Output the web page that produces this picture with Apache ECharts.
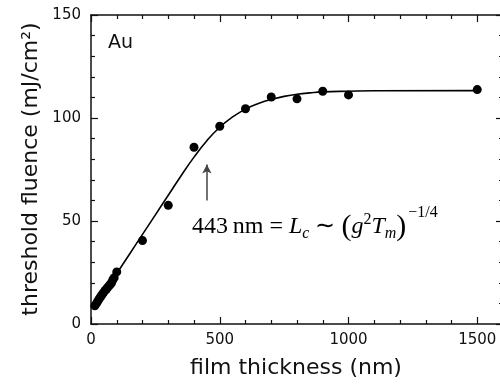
<!DOCTYPE html>
<html>
<head>
<meta charset="utf-8">
<script src="https://cdn.jsdelivr.net/npm/echarts@6/dist/echarts.min.js"></script>
<style>html,body{margin:0;padding:0;background:#fff}#c{width:500px;height:385px}</style>
</head>
<body>
<div id="c"></div>
<script>
// measured film thickness (nm) and threshold fluence (mJ/cm^2)
var thickness = [15, 20, 25, 30, 35, 40, 45, 50, 55, 60, 65, 70, 75, 80, 85, 90, 100, 200, 300, 400, 500, 600, 700, 800, 900, 1000, 1500];
var fluence   = [8.8, 9.8, 10.8, 11.8, 12.8, 13.7, 14.6, 15.5, 16.3, 17.0, 17.8, 18.5, 19.3, 20.0, 21.5, 22.5, 25.3, 40.5, 57.6, 85.8, 96.0, 104.5, 110.2, 109.3, 113.0, 111.2, 113.8];
// fit curve
var fitX = [10, 50, 100, 150, 200, 250, 300, 350, 400, 450, 500, 550, 600, 650, 700, 750, 800, 850, 900, 1000, 1100, 1500];
var fitY = [7.5, 15, 24.5, 34, 43.5, 53, 62.5, 72, 81, 89, 95.5, 100.5, 104.3, 107, 109, 110.5, 111.5, 112.2, 112.7, 113, 113.2, 113.3];
var xTicks = [0, 500, 1000, 1500];
var yTicks = [0, 50, 100, 150];
var arrowX = 450, arrowFrom = 60, arrowTo = 77.4;

var chart = echarts.init(document.getElementById('c'), null, {renderer: 'canvas'});
var axisCommon = {
  type: 'value',
  axisLine: {show: true, onZero: false, lineStyle: {color: '#111', width: 1.5}},
  axisTick: {show: true, inside: true, length: 7, lineStyle: {color: '#111', width: 1.2}},
  minorTick: {show: true, splitNumber: 5, length: 4, lineStyle: {color: '#111', width: 1.2}},
  splitLine: {show: false},
  minorSplitLine: {show: false}
};
var labelStyle = {color: '#111', fontFamily: 'DejaVu Sans', fontSize: 15};
var pairs = thickness.map(function (t, i) { return [t, fluence[i]]; });
var fit = fitX.map(function (t, i) { return [t, fitY[i]]; });

chart.setOption({
  animation: false,
  backgroundColor: '#fff',
  grid: {left: 91, top: 15, width: 412, height: 309, containLabel: false, outerBoundsMode: 'none'},
  xAxis: [
    Object.assign({}, axisCommon, {position: 'bottom', min: 0, max: 1600, interval: 500,
      axisLabel: Object.assign({margin: 9, formatter: function (v) { return xTicks.indexOf(v) >= 0 ? String(v) : ''; }}, labelStyle)}),
    Object.assign({}, axisCommon, {position: 'top', min: 0, max: 1600, interval: 500, axisLabel: {show: false}})
  ],
  yAxis: [
    Object.assign({}, axisCommon, {position: 'left', min: 0, max: 150, interval: 50,
      axisLabel: Object.assign({margin: 10, formatter: function (v) { return yTicks.indexOf(v) >= 0 ? String(v) : ''; }}, labelStyle)}),
    Object.assign({}, axisCommon, {position: 'right', min: 0, max: 150, interval: 50, axisLabel: {show: false}})
  ],
  series: [
    {type: 'line', data: fit, smooth: true, symbol: 'none', lineStyle: {color: '#000', width: 1.6}, z: 2,
     markLine: {silent: true, symbol: ['none', 'arrow'], symbolSize: [7, 9], label: {show: false},
       lineStyle: {color: '#444', width: 1.5, type: 'solid'},
       data: [[{coord: [arrowX, arrowFrom]}, {coord: [arrowX, arrowTo]}]]}},
    {type: 'scatter', data: pairs, symbol: 'circle', symbolSize: 9, itemStyle: {color: '#000', opacity: 1}, z: 3}
  ],
  graphic: [
    {type: 'text', left: 108, top: 34, style: {text: 'Au', fontFamily: 'DejaVu Sans', fontSize: 19, fill: '#111'}},
    {type: 'text', x: 296, y: 368, style: {text: 'film thickness (nm)', fontFamily: 'DejaVu Sans', fontSize: 22, fill: '#111', align: 'center', verticalAlign: 'middle'}},
    {type: 'text', x: 31, y: 169, rotation: Math.PI / 2, style: {text: 'threshold fluence (mJ/cm²)', fontFamily: 'DejaVu Sans', fontSize: 22, fill: '#111', align: 'center', verticalAlign: 'middle'}},
    {type: 'text', x: 192, y: 227, style: {
      text: '{n|443\u2009nm = }{i|L}{sub|c}{n| \u223C }{p|(}{i|g}{sup|2}{i|T}{sub|m}{p|)}{sup2|\u22121/4}',
      verticalAlign: 'middle', align: 'left',
      rich: {
        n: {fontFamily: 'Liberation Serif', fontSize: 24, lineHeight: 44, color: '#333'},
        i: {fontFamily: 'Liberation Serif', fontStyle: 'italic', fontSize: 24, lineHeight: 44, color: '#333'},
        p: {fontFamily: 'Liberation Serif', fontSize: 30, lineHeight: 44, color: '#444'},
        sub: {fontFamily: 'Liberation Serif', fontStyle: 'italic', fontSize: 16, verticalAlign: 'bottom', padding: [0, 0, 7, 0], color: '#333'},
        sup: {fontFamily: 'Liberation Serif', fontSize: 16, verticalAlign: 'top', padding: [7, 0, 0, 0], color: '#333'},
        sup2: {fontFamily: 'Liberation Serif', fontSize: 16, verticalAlign: 'top', padding: [0, 0, 0, 2], color: '#333'}
      }
    }}
  ]
});
</script>
</body>
</html>
